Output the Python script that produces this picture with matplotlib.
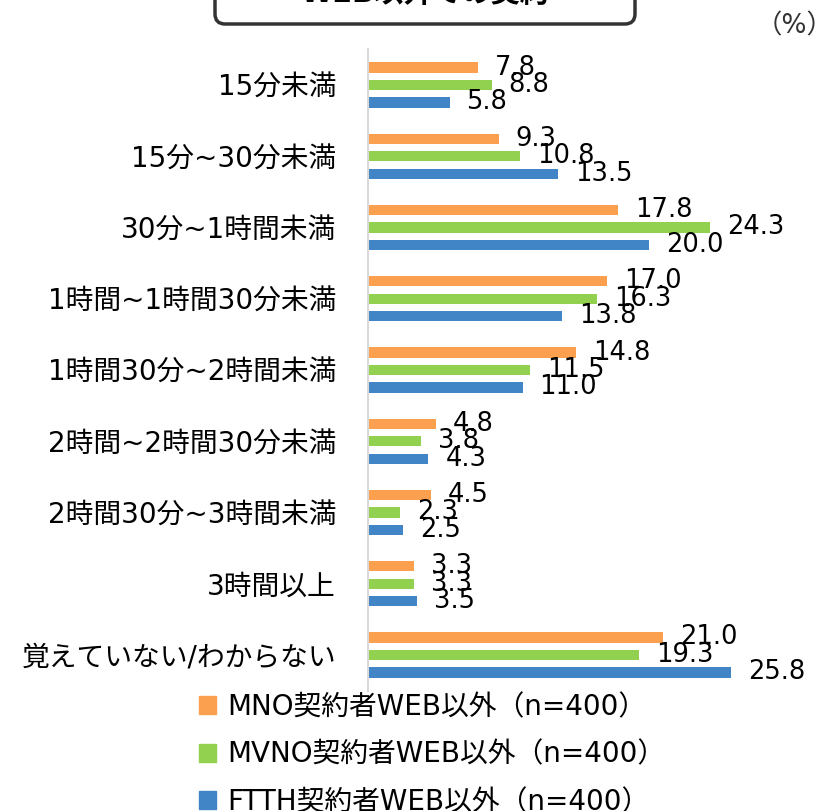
import matplotlib
matplotlib.use("Agg")
import matplotlib.pyplot as plt
from matplotlib.patches import Patch, FancyBboxPatch
import numpy as np

plt.rcParams["font.family"] = ["DejaVu Sans", "Noto Sans CJK JP"]

categories = [
    "15分未満",
    "15分~30分未満",
    "30分~1時間未満",
    "1時間~1時間30分未満",
    "1時間30分~2時間未満",
    "2時間~2時間30分未満",
    "2時間30分~3時間未満",
    "3時間以上",
    "覚えていない/わからない",
]
series_names = [
    "MNO契約者WEB以外（n=400）",
    "MVNO契約者WEB以外（n=400）",
    "FTTH契約者WEB以外（n=400）",
]
mno = [7.8, 9.3, 17.8, 17.0, 14.8, 4.8, 4.5, 3.3, 21.0]
mvno = [8.8, 10.8, 24.3, 16.3, 11.5, 3.8, 2.3, 3.3, 19.3]
ftth = [5.8, 13.5, 20.0, 13.8, 11.0, 4.3, 2.5, 3.5, 25.8]
colors = ["#FBA04E", "#92D050", "#4285C6"]

W, H = 839, 811
fig = plt.figure(figsize=(W / 100, H / 100), dpi=100)
ax = fig.add_axes([368 / W, 0.1485, 422 / W, 0.7906])

y = np.arange(len(categories))
offsets = [-0.245, 0, 0.245]
for vals, off, c in zip([mno, mvno, ftth], offsets, colors):
    ax.barh(y + off, vals, height=0.145, color=c)
    for v, yy in zip(vals, y + off):
        ax.text(v + 1.2, yy, f"{v:.1f}", va="center", ha="left", fontsize=18.5)

ax.set_xlim(0, 30)
ax.set_ylim(8.5, -0.5)
ax.set_yticks(y)
ax.set_yticklabels(categories, fontsize=20)
ax.tick_params(axis="y", length=0, pad=23)
ax.set_xticks([])
for s in ["top", "right", "bottom"]:
    ax.spines[s].set_visible(False)
ax.spines["left"].set_color("#D9D9D9")
ax.spines["left"].set_linewidth(1.5)

# title box, mostly cut off at the top edge
box = FancyBboxPatch((215 / W, 1 - 24 / H), 420 / W, 60 / H,
                     boxstyle="round,pad=0,rounding_size=0.012",
                     transform=fig.transFigure, fc="white", ec="#333333",
                     lw=2.5, mutation_aspect=W / H)
fig.patches.append(box)
fig.text(425 / W, 1 + 6 / H, "WEB以外での契約", ha="center", va="center",
         fontsize=21, fontweight="bold")
fig.text(834 / W, 1 - 26 / H, "（%）", ha="right", va="center", fontsize=19,
         color="#333333")

handles = [Patch(color=c) for c in colors]
fig.legend(handles, series_names, loc="upper left",
           bbox_to_anchor=(199 / W, 1 - 693 / H), frameon=False,
           fontsize=20, handlelength=0.62, handleheight=0.62,
           handletextpad=0.4, labelspacing=0.7, borderpad=0, borderaxespad=0)

fig.savefig("out.png", dpi=100)
